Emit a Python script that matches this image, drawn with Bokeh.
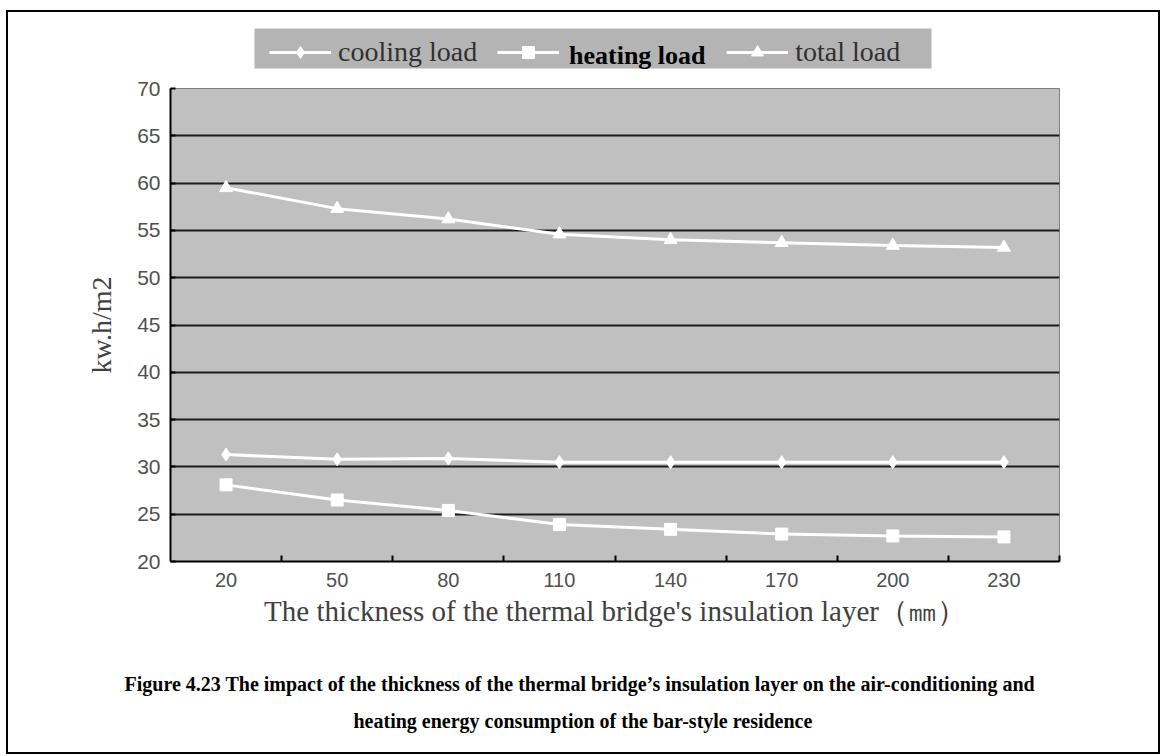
from bokeh.plotting import figure
from bokeh.layouts import column
from bokeh.models import FixedTicker, Legend, LegendItem, Title, Range1d, BoxAnnotation
from bokeh.embed import file_html
from bokeh.resources import INLINE

# ---------------- data ----------------
thickness = [20, 50, 80, 110, 140, 170, 200, 230]
cooling_load = [31.3, 30.8, 30.9, 30.5, 30.5, 30.5, 30.5, 30.5]
heating_load = [28.1, 26.5, 25.4, 23.9, 23.4, 22.9, 22.7, 22.6]
total_load = [59.5, 57.3, 56.2, 54.6, 54.0, 53.7, 53.4, 53.2]
y_ticks = [20, 25, 30, 35, 40, 45, 50, 55, 60, 65, 70]
series_names = ["cooling load", "heating load", "total load"]

x_title = "The thickness of the thermal bridge's insulation layer（㎜）"
y_title = "kw.h/m2"
caption1 = ("Figure 4.23 The impact of the thickness of the thermal bridge\u2019s "
            "insulation layer on the air-conditioning and")
caption2 = "heating energy consumption of the bar-style residence"

idx = list(range(len(thickness)))
series = [cooling_load, heating_load, total_load]

TICK_FONT = "Liberation Sans Narrow, Liberation Sans"
SERIF = "Liberation Serif"
W = 1150
FL, FW = 162, 889          # frame left border / frame width (all strips share it)
markers = ["diamond", "square", "triangle"]
sizes = [13, 12, 13]

# ---------------- main chart ----------------
p = figure(width=W, height=564,
           x_range=Range1d(-0.5, len(thickness) - 0.5),
           y_range=Range1d(y_ticks[0], y_ticks[-1]),
           output_backend="svg", toolbar_location=None,
           min_border_left=FL, min_border_right=W - FL - FW,
           min_border_top=12, min_border_bottom=79)
p.frame_width = FW
p.frame_height = 473

p.background_fill_color = "#c0c0c0"
p.border_fill_color = "white"
p.outline_line_color = "#808080"
p.outline_line_width = 1

p.xgrid.visible = False
p.ygrid.ticker = FixedTicker(ticks=y_ticks[1:-1])
p.ygrid.grid_line_color = "#1c1c1c"
p.ygrid.grid_line_width = 2

xa = p.xaxis[0]
xa.ticker = FixedTicker(ticks=idx, minor_ticks=[i + 0.5 for i in idx])
xa.major_label_overrides = {i: str(t) for i, t in zip(idx, thickness)}
xa.major_tick_in = 0
xa.major_tick_out = 0
xa.minor_tick_in = 6
xa.minor_tick_out = 0
xa.minor_tick_line_color = "black"
xa.minor_tick_line_width = 2
xa.axis_line_color = "black"
xa.axis_line_width = 2
xa.major_label_text_font = TICK_FONT
xa.major_label_text_font_size = "20px"
xa.major_label_text_color = "#505050"
xa.major_label_standoff = 11
xa.axis_label = x_title
xa.axis_label_text_font = SERIF
xa.axis_label_text_font_style = "normal"
xa.axis_label_text_font_size = "29px"
xa.axis_label_text_color = "#404040"
xa.axis_label_standoff = 5

ya = p.yaxis[0]
ya.ticker = FixedTicker(ticks=y_ticks)
ya.major_tick_in = 5
ya.major_tick_out = 0
ya.major_tick_line_color = "black"
ya.major_tick_line_width = 2
ya.minor_tick_line_color = None
ya.axis_line_color = "black"
ya.axis_line_width = 2
ya.major_label_text_font = TICK_FONT
ya.major_label_text_font_size = "21px"
ya.major_label_text_color = "#505050"
ya.major_label_standoff = 10
ya.axis_label = y_title
ya.axis_label_text_font = SERIF
ya.axis_label_text_font_style = "normal"
ya.axis_label_text_font_size = "28px"
ya.axis_label_text_color = "#404040"
ya.axis_label_standoff = 17

for vals, mk, sz in zip(series, markers, sizes):
    p.line(idx, vals, line_color="white", line_width=3)
    p.scatter(idx, vals, marker=mk, size=sz, fill_color="white", line_color="white")

# ---------------- legend strip ----------------
lg = figure(width=W, height=64, x_range=Range1d(-0.5, len(thickness) - 0.5),
            y_range=Range1d(100, 101),  # series lie outside this strip's view
            x_axis_location=None, y_axis_location=None,
            min_border_left=FL, min_border_right=W - FL - FW,
            min_border_top=0, min_border_bottom=0,
            output_backend="svg", toolbar_location=None)
lg.frame_width = FW
lg.grid.visible = False
lg.outline_line_color = None
lg.background_fill_color = "white"
lg.border_fill_color = "white"

lg.add_layout(BoxAnnotation(left=84, right=761, bottom=8, top=48,
                            left_units="screen", right_units="screen",
                            bottom_units="screen", top_units="screen",
                            fill_color="#b4b4b4", fill_alpha=1, line_color=None))

leg_items = []
for name, vals, mk, sz in zip(series_names, series, markers, sizes):
    ln = lg.line(idx, vals, line_color="white", line_width=3)
    sc = lg.scatter(idx, vals, marker=mk, size=sz, fill_color="white", line_color="white")
    label = "\u2003\u2003\u2003\u2003\u2003" if name == "heating load" else name
    leg_items.append(LegendItem(label=label, renderers=[ln, sc]))

legA = Legend(items=leg_items, orientation="horizontal", location=(99, 8),
              background_fill_alpha=0, border_line_color=None,
              label_text_font=SERIF, label_text_font_size="28px",
              label_text_color="#303030", glyph_width=62, glyph_height=30,
              label_standoff=7, spacing=20, padding=5, margin=0)
lg.add_layout(legA, "center")

dummy = lg.scatter([], [], marker="square", size=1, fill_alpha=0, line_alpha=0)
legB = Legend(items=[LegendItem(label="heating load", renderers=[dummy])],
              orientation="horizontal", location=(398, 5),
              background_fill_alpha=0, border_line_color=None,
              label_text_font=SERIF, label_text_font_size="26px", label_text_font_style="bold",
              label_text_color="black", glyph_width=1, glyph_height=30,
              label_standoff=0, padding=5, margin=0)
lg.add_layout(legB, "center")

# ---------------- caption strip ----------------
cap = figure(width=W, height=112, x_range=Range1d(0, 1), y_range=Range1d(0, 1),
             x_axis_location=None, y_axis_location=None,
             min_border_left=FL, min_border_right=W - FL - FW,
             min_border_top=56, min_border_bottom=45,
             output_backend="svg", toolbar_location=None)
cap.frame_width = FW
cap.grid.visible = False
cap.outline_line_color = None
cap.background_fill_color = "white"
cap.border_fill_color = "white"
cap.add_layout(Title(text=caption1, align="left", offset=-46, vertical_align="bottom",
                     standoff=4, text_font=SERIF, text_font_style="bold",
                     text_font_size="20px", text_color="black"), "above")
cap.add_layout(Title(text=caption2, align="left", offset=183, vertical_align="top",
                     standoff=4, text_font=SERIF, text_font_style="bold",
                     text_font_size="20px", text_color="black"), "below")

layout = column(lg, p, cap, spacing=0)
layout.margin = (12, 0, 0, 8)
layout.styles = {"outline": "2px solid #000000"}

open("out.html", "w").write(file_html(layout, INLINE))
